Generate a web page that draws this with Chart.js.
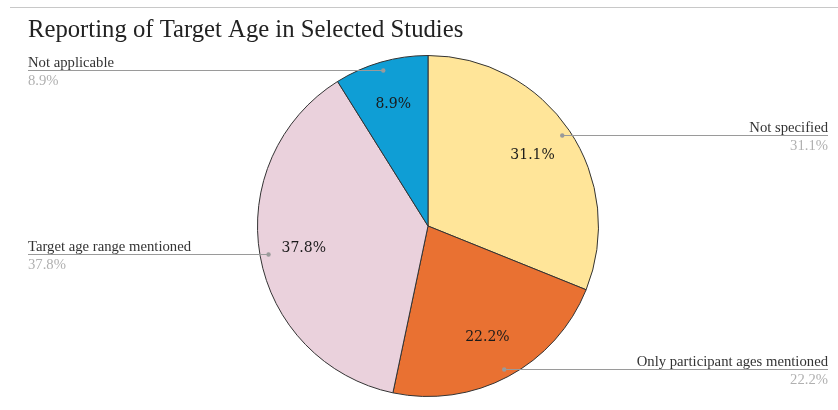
<!DOCTYPE html>
<html>
<head>
<meta charset="utf-8">
<script src="https://cdn.jsdelivr.net/npm/chart.js@4/dist/chart.umd.min.js"></script>
<style>
  html, body { margin: 0; padding: 0; background: #fff; }
  canvas { display: block; }
</style>
</head>
<body>
<canvas id="c" width="838" height="410"></canvas>
<script>
const chartTitle = "Reporting of Target Age in Selected Studies";
const categories = ["Not specified", "Only participant ages mentioned", "Target age range mentioned", "Not applicable"];
const values = [31.1, 22.2, 37.8, 8.9];
const sliceColors = ["#FFE599", "#E97132", "#EAD1DC", "#0F9ED5"];

const decorPlugin = {
  id: 'decor',
  afterDraw(chart) {
    const ctx = chart.ctx;
    const W = chart.width;
    ctx.save();
    // top rule
    ctx.strokeStyle = '#c8c8c8';
    ctx.lineWidth = 1;
    ctx.beginPath();
    ctx.moveTo(10, 7.5);
    ctx.lineTo(W, 7.5);
    ctx.stroke();
    // title
    ctx.fillStyle = '#222';
    ctx.font = '24.7px "Liberation Serif", "Times New Roman", serif';
    ctx.textBaseline = 'alphabetic';
    ctx.textAlign = 'left';
    ctx.fillText(chartTitle, 28, 37);

    const meta = chart.getDatasetMeta(0);
    const data = chart.data.datasets[0].data;
    meta.data.forEach((arc, i) => {
      const mid = (arc.startAngle + arc.endAngle) / 2;
      const r = arc.outerRadius;
      // inner value label
      const lx = arc.x + Math.cos(mid) * r * 0.74;
      const ly = arc.y + Math.sin(mid) * r * 0.74;
      ctx.fillStyle = '#1a1a1a';
      ctx.font = '14px "DejaVu Serif", serif';
      ctx.textAlign = 'center';
      ctx.textBaseline = 'middle';
      ctx.fillText(data[i].toFixed(1) + '%', lx, ly);

      // leader
      const dx = arc.x + Math.cos(mid) * r * 0.95;
      const dy = Math.round(arc.y + Math.sin(mid) * r * 0.95) + 0.5;
      const right = Math.cos(mid) > 0;
      const edge = right ? 828 : 28;
      ctx.strokeStyle = '#9a9a9a';
      ctx.lineWidth = 1;
      ctx.beginPath();
      ctx.moveTo(dx, dy);
      ctx.lineTo(edge, dy);
      ctx.stroke();
      ctx.fillStyle = '#9a9a9a';
      ctx.beginPath();
      ctx.arc(dx, dy, 2.2, 0, Math.PI * 2);
      ctx.fill();

      ctx.textAlign = right ? 'right' : 'left';
      ctx.textBaseline = 'alphabetic';
      ctx.font = '14.7px "Liberation Serif", "Times New Roman", serif';
      ctx.fillStyle = '#333';
      ctx.fillText(chart.data.labels[i], edge, dy - 3.5);
      ctx.fillStyle = '#b0b0b0';
      ctx.fillText(data[i].toFixed(1) + '%', edge, dy + 14);
    });
    ctx.restore();
  }
};

new Chart(document.getElementById('c'), {
  type: 'pie',
  data: {
    labels: categories,
    datasets: [{
      data: values,
      backgroundColor: sliceColors,
      borderColor: '#333333',
      borderWidth: 1
    }]
  },
  options: {
    responsive: false,
    animation: false,
    layout: { padding: { left: 257, right: 239, top: 55, bottom: 13 } },
    plugins: {
      legend: { display: false },
      tooltip: { enabled: false },
      title: { display: false }
    }
  },
  plugins: [decorPlugin]
});
</script>
</body>
</html>
